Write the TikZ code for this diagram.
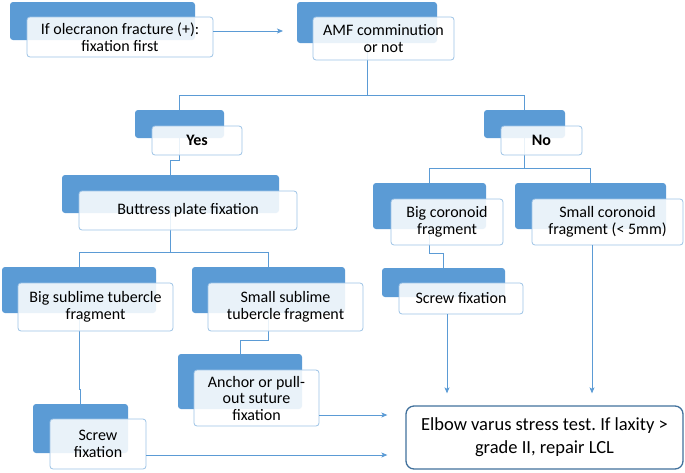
\documentclass[tikz,border=0pt]{standalone}
\usepackage{fontspec}
\setmainfont{Carlito}
\usetikzlibrary{arrows.meta}
\definecolor{dk}{HTML}{5B9BD5}
\definecolor{lb}{HTML}{9DC3E6}
\definecolor{eb}{HTML}{41719C}
\frenchspacing
\begin{document}
\begin{tikzpicture}[x=1pt,y=-1pt,
  dkbox/.style={fill=dk, draw=none, rounded corners=3pt, inner sep=0pt, outer sep=0pt},
  wbox/.style={fill=white, fill opacity=0.87, text opacity=1, draw=lb, line width=0.8pt, rounded corners=3pt, inner sep=0pt, outer sep=0pt, align=center, font=\fontsize{16}{16.5}\selectfont},
  conn/.style={draw=dk, line width=0.8pt},
  arr/.style={draw=dk, line width=0.8pt, -{Stealth[length=6pt,width=5pt,inset=1.5pt]}},
  ebox/.style={draw=eb, line width=1.3pt, fill=white, rounded corners=8pt, align=center, inner sep=0pt, font=\fontsize{18.5}{23}\selectfont}]
\useasboundingbox (0,0) rectangle (685,472);
% dark boxes
\node[dkbox, minimum width=185pt, minimum height=38pt] (d1) at (102.5,21) {};
\node[dkbox, minimum width=140pt, minimum height=41pt] (d2) at (367,22.5) {};
\node[dkbox, minimum width=89pt, minimum height=28pt] (d3) at (179.5,124) {};
\node[dkbox, minimum width=81pt, minimum height=28pt] (d4) at (524.5,124) {};
\node[dkbox, minimum width=217pt, minimum height=38pt] (d5) at (170.5,194) {};
\node[dkbox, minimum width=113pt, minimum height=46pt] (d6) at (429.5,206) {};
\node[dkbox, minimum width=151pt, minimum height=46pt] (d7) at (590.5,206) {};
\node[dkbox, minimum width=154pt, minimum height=46pt] (d8) at (79,290) {};
\node[dkbox, minimum width=153pt, minimum height=46pt] (d9) at (268.5,290) {};
\node[dkbox, minimum width=123pt, minimum height=29pt] (d10) at (443.5,282.5) {};
\node[dkbox, minimum width=124pt, minimum height=55pt] (d11) at (240,381.5) {};
\node[dkbox, minimum width=95pt, minimum height=49pt] (d12) at (80.5,428.5) {};
% connectors behind white boxes
\draw[conn] (d2.center) -- (d2.center |- 0,95) -| (d3.north);
\draw[conn] (d2.center |- 0,95) -| (d4.north);
\draw[conn] (d3.center) -- (d3.center |- 0,160) -| (d5.north);
\draw[conn] (d4.center) -- (d4.center |- 0,168) -| (d6.north);
\draw[conn] (d4.center |- 0,168) -| (d7.north);
\draw[conn] (d5.center) -- (d5.center |- 0,252) -| (d8.north);
\draw[conn] (d5.center |- 0,252) -| (d9.north);
\draw[conn] (d6.center) -- (d6.center |- 0,253) -| (d10.north);
\draw[conn] (d9.center) -- (d9.center |- 0,340) -| (d11.north);
\draw[conn] (d8.center) -- (d8.center |- 0,389) -| (d12.north);
% white boxes
\node[wbox, minimum width=186pt, minimum height=40pt] (w1) at (120,37) {If olecranon fracture (+):\\fixation first};
\node[wbox, minimum width=141pt, minimum height=43pt] (w2) at (383.5,38.5) {AMF comminution\\or not};
\node[wbox, minimum width=90pt, minimum height=29pt, font=\fontsize{16}{16.5}\selectfont\bfseries] (w3) at (197,140.5) {Yes};
\node[wbox, minimum width=81pt, minimum height=29pt, font=\fontsize{16}{16.5}\selectfont\bfseries] (w4) at (541.5,140.5) {No};
\node[wbox, minimum width=218pt, minimum height=39pt] (w5) at (188,210.5) {Buttress plate fixation};
\node[wbox, minimum width=112pt, minimum height=46pt] (w6) at (447,222) {Big coronoid\\fragment};
\node[wbox, minimum width=151pt, minimum height=46pt] (w7) at (607.5,222) {Small coronoid\\fragment (< 5mm)};
\node[wbox, minimum width=155pt, minimum height=48pt] (w8) at (95.5,307) {Big sublime tubercle\\fragment};
\node[wbox, minimum width=155pt, minimum height=48pt] (w9) at (285.5,307) {Small sublime\\tubercle fragment};
\node[wbox, minimum width=124pt, minimum height=31pt] (w10) at (461,298.5) {Screw fixation};
\node[wbox, minimum width=125pt, minimum height=56pt] (w11) at (256.5,398) {Anchor or pull-\\out suture\\fixation};
\node[wbox, minimum width=96pt, minimum height=50pt] (w12) at (98,444) {Screw\\fixation};
\node[ebox, minimum width=277pt, minimum height=63pt] (E) at (544.5,437.5) {Elbow varus stress test. If laxity >\\grade II, repair LCL};
% arrows
\draw[arr, shorten >=14pt] ([yshift=6pt]w1.east) -- ([yshift=6pt]w1.east -| d2.west);
\draw[arr, shorten >=12pt] ([xshift=3.5pt]d10.center |- w10.south) -- ([xshift=3.5pt]d10.center |- E.north);
\draw[arr, shorten >=12pt] ([xshift=1.5pt]d7.center |- w7.south) -- ([xshift=1.5pt]d7.center |- E.north);
\draw[arr, shorten >=18pt] ([yshift=-17pt]w11.east) -- ([yshift=-17pt]w11.east -| E.west);
\draw[arr, shorten >=18pt] ([yshift=-11pt]w12.east) -- ([yshift=-11pt]w12.east -| E.west);
\end{tikzpicture}
\end{document}
